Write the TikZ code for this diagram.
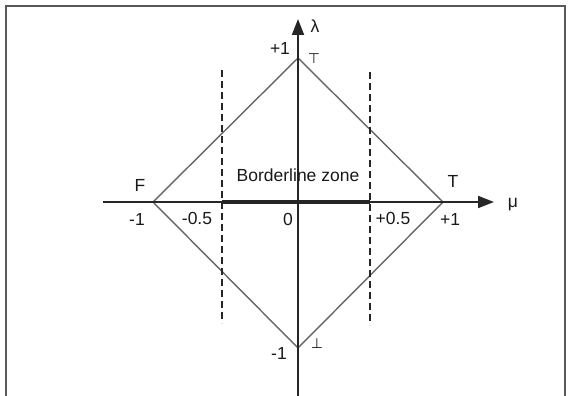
\documentclass[tikz,border=0pt]{standalone}
\usepackage{fontspec}
\setmainfont{Liberation Sans}
\newfontfamily\symfont{DejaVu Sans}
\usetikzlibrary{arrows.meta}
\begin{document}
\begin{tikzpicture}[x=1pt,y=-1pt,
  axis/.style={draw=black!85,line width=1.9pt,-{Triangle[length=16pt,width=12pt]}},
  edge/.style={draw=black!60,line width=1.4pt},
  dashline/.style={draw=black!85,line width=1.4pt,dash pattern=on 7pt off 4pt},
  zone/.style={draw=black!85,line width=4.5pt},
  lbl/.style={font=\fontsize{17.5}{20}\selectfont,text=black!90,inner sep=0pt},
  sym/.style={font=\symfont\fontsize{14}{15}\selectfont,text=black!90,inner sep=0pt}]
\useasboundingbox (0,0) rectangle (570,396);
\draw[draw=black!65,line width=1.3pt] (6,420) -- (6,6) -- (565,6) -- (565,420);
% vertices
\coordinate (O) at (298,202);
\coordinate (Vt) at (298,58);
\coordinate (Vb) at (298,348);
\coordinate (Vf) at (153,202);
\coordinate (Vtr) at (443,202);
\coordinate (xl) at (103,202);
\coordinate (xr) at (494,202);
\coordinate (yb) at (298,396);
\coordinate (yt) at (298,19);
\coordinate (zl) at (222,202);
\coordinate (zr) at (370,202);
\coordinate (dlt) at (222,70);
\coordinate (dlb) at (222,323);
\coordinate (drt) at (370,72);
\coordinate (drb) at (370,325);
% diamond
\draw[edge] (Vf) -- (Vt) -- (Vtr) -- (Vb) -- cycle;
% dashed
\draw[dashline] (dlt) -- (dlb);
\draw[dashline] (drt) -- (drb);
% axes
\draw[axis] (xl) -- (xr);
\draw[axis] (yb) -- (yt);
% zone
\draw[zone] (zl) -- (zr);
% labels
\node[lbl] (lam) at (315,26) {λ};
\node[lbl] (mu) at (513,205) {μ};
\node[lbl] (p1t) at (280,48) {+1};
\node[sym] (top) at (314,59) {⊤};
\node[sym] (bot) at (317,344) {⊥};
\node[lbl] (m1b) at (279,353) {-1};
\node[lbl] (Fl) at (140,185) {F};
\node[lbl] (Tl) at (453,181) {T};
\node[lbl] (m1l) at (137,219) {-1};
\node[lbl] (m05) at (197,218) {-0.5};
\node[lbl] (zero) at (288,219) {0};
\node[lbl] (p05) at (393,218) {+0.5};
\node[lbl] (p1r) at (450,219) {+1};
\node[lbl] (bz) at (298,175) {Borderline zone};
\end{tikzpicture}
\end{document}
